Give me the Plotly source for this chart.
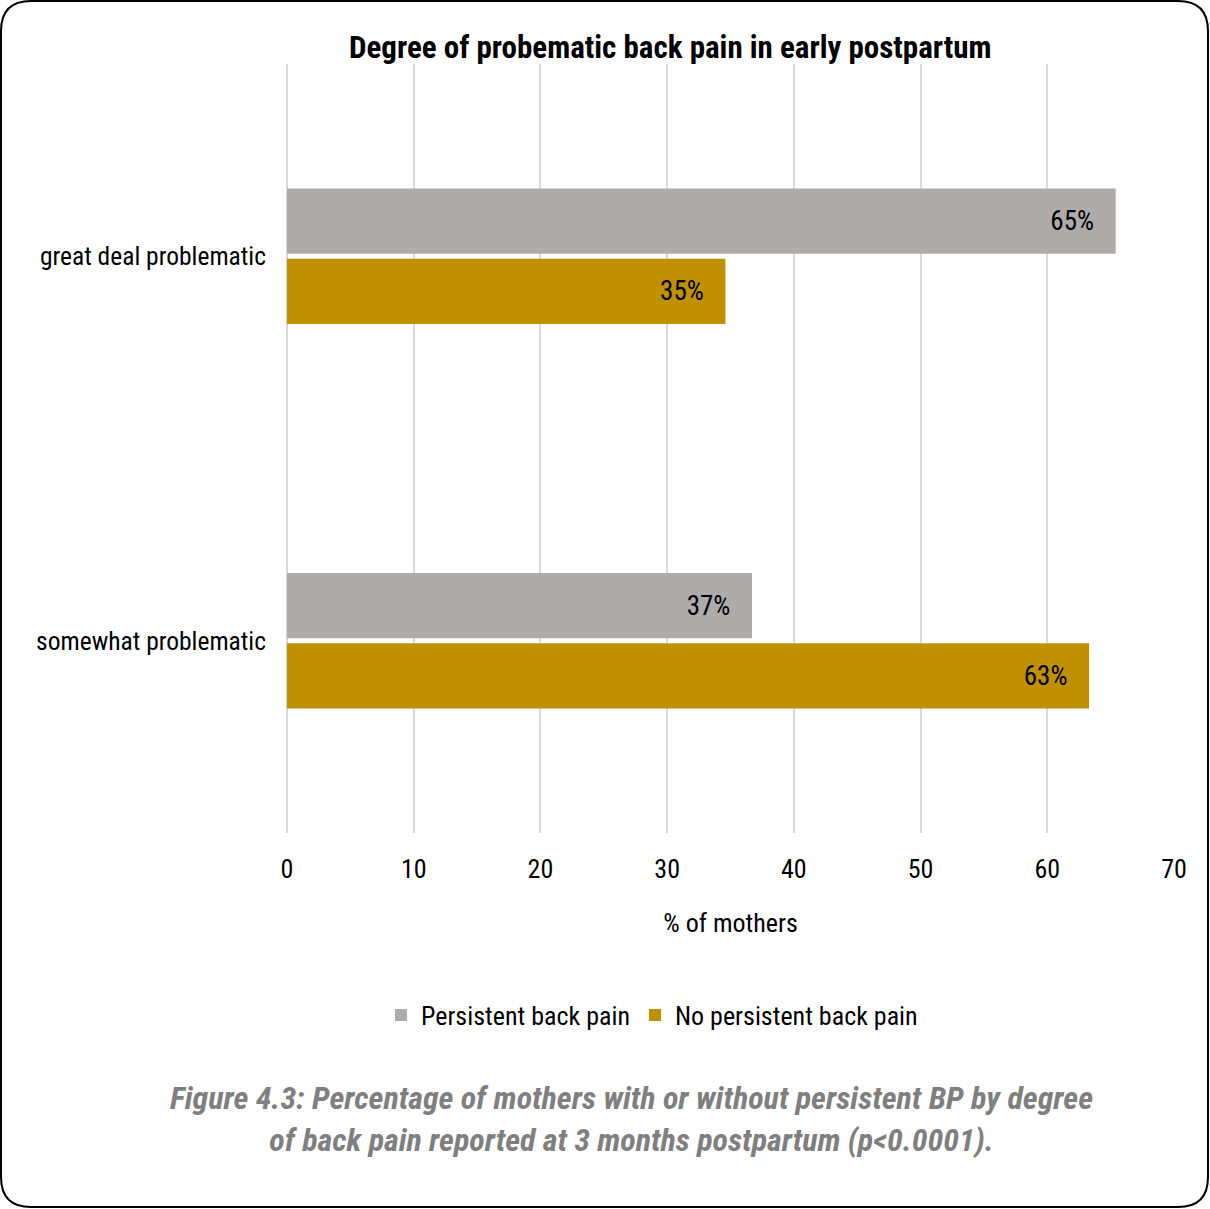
import plotly.graph_objects as go

# Survey results: share of mothers by degree of early postpartum back pain
categories = ["great deal problematic", "somewhat problematic"]
persistent = [65.4, 36.7]
no_persistent = [34.6, 63.3]
series_names = ["Persistent back pain", "No persistent back pain"]
x_ticks = [0, 10, 20, 30, 40, 50, 60, 70]

W, H = 1210, 1209
ML, MR, MT, MB = 287, 36, 64, 376
PW, PH = W - ML - MR, H - MT - MB

FONT = "Liberation Sans Narrow, Arial Narrow, Roboto Condensed, Liberation Sans, Arial, sans-serif"
GREY = "#AFABAB"
GOLD = "#BF9000"
NB = "\u00a0"


def px(x):
    return (x - ML) / PW


def py(y):
    return (H - MB - y) / PH


fig = go.Figure()
for name, vals, col in [(series_names[0], persistent, GREY),
                        (series_names[1], no_persistent, GOLD)]:
    fig.add_trace(go.Bar(
        y=categories, x=vals, name=name, orientation="h",
        marker=dict(color=col, line=dict(width=0)),
        texttemplate="%{x:.0f}%" + NB * 3, textposition="inside",
        insidetextanchor="end",
        textfont=dict(family=FONT, size=27, color="#000000"),
        cliponaxis=False,
    ))

# rounded frame around the whole figure
r = 30
x0, x1, y0, y1 = 1, W - 2, 1, H - 2
pts = [
    f"M {px(x0 + r)},{py(y0)}",
    f"L {px(x1 - r)},{py(y0)}",
    f"Q {px(x1)},{py(y0)} {px(x1)},{py(y0 + r)}",
    f"L {px(x1)},{py(y1 - r)}",
    f"Q {px(x1)},{py(y1)} {px(x1 - r)},{py(y1)}",
    f"L {px(x0 + r)},{py(y1)}",
    f"Q {px(x0)},{py(y1)} {px(x0)},{py(y1 - r)}",
    f"L {px(x0)},{py(y0 + r)}",
    f"Q {px(x0)},{py(y0)} {px(x0 + r)},{py(y0)}",
    "Z",
]
fig.add_shape(type="path", path=" ".join(pts), xref="paper", yref="paper",
              line=dict(color="#000000", width=2), layer="above")

fig.add_annotation(
    text="<b>Degree of probematic back pain in early postpartum</b>",
    x=px(670), y=py(48), xref="paper", yref="paper",
    xanchor="center", yanchor="middle", showarrow=False,
    font=dict(family=FONT, size=31, color="#000000"),
)

fig.add_annotation(
    text="<b><i>Figure 4.3: Percentage of mothers with or without persistent BP by degree<br>"
         "of back pain reported at 3 months postpartum (p&lt;0.0001).</i></b>",
    x=px(631), y=py(1119), xref="paper", yref="paper",
    xanchor="center", yanchor="middle", showarrow=False, align="center",
    font=dict(family=FONT, size=32, color="#7F7F7F"),
)

fig.update_layout(
    width=W, height=H,
    margin=dict(l=ML, r=MR, t=MT, b=MB, pad=0),
    paper_bgcolor="#FFFFFF", plot_bgcolor="#FFFFFF",
    barmode="group", bargap=0.635, bargroupgap=0.07,
    font=dict(family=FONT, size=26, color="#000000"),
    showlegend=True,
    legend=dict(orientation="h", x=px(652), y=py(1015), xanchor="center",
                yanchor="middle", font=dict(family=FONT, size=26, color="#000000"),
                itemwidth=30, tracegroupgap=0),
    xaxis=dict(range=[0, 70], tickvals=x_ticks, showgrid=True,
               gridcolor="#D9D9D9", gridwidth=2,
               zeroline=True, zerolinecolor="#D9D9D9", zerolinewidth=2,
               showline=False, ticks="", ticklabelstandoff=18,
               tickfont=dict(family=FONT, size=26, color="#000000"),
               title=dict(text="% of mothers", standoff=30,
                          font=dict(family=FONT, size=26, color="#000000"))),
    yaxis=dict(autorange="reversed", showgrid=False, zeroline=False,
               showline=False, ticks="", ticklabelstandoff=20,
               tickfont=dict(family=FONT, size=25.5, color="#000000")),
)

fig.write_html("out.html")
